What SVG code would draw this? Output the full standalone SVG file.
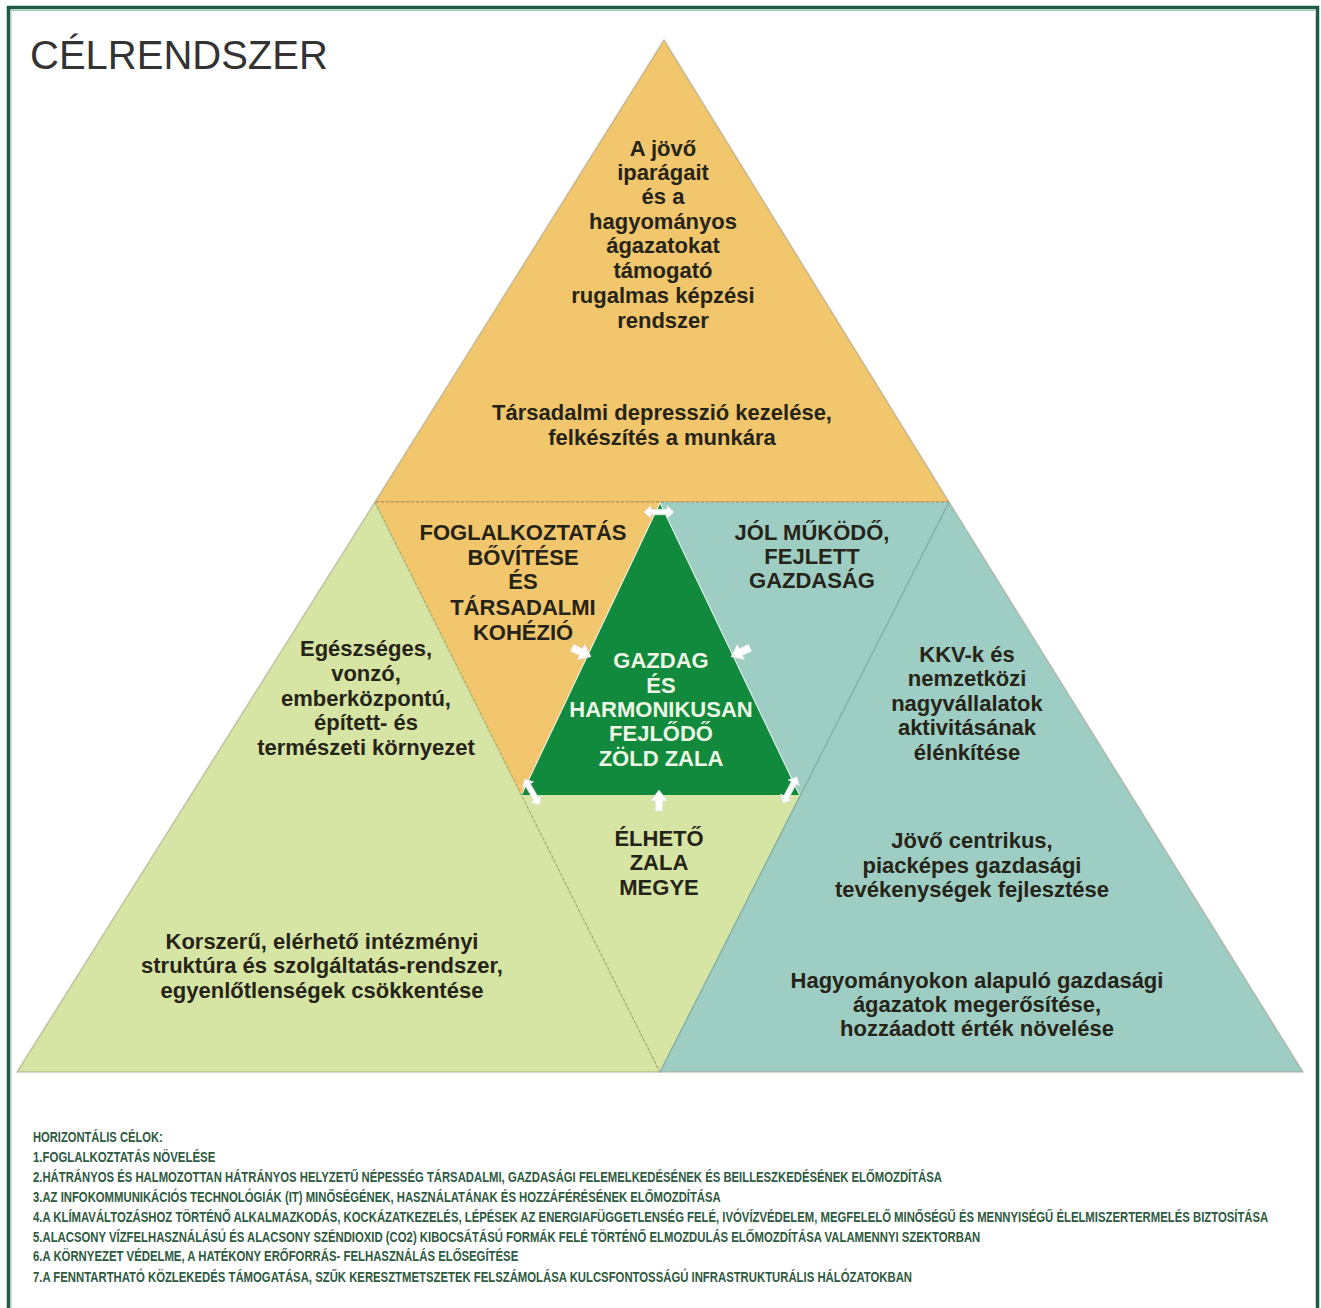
<svg xmlns="http://www.w3.org/2000/svg" xmlns:xlink="http://www.w3.org/1999/xlink" width="1321" height="1308" viewBox="0 0 1321 1308">
<style>
.lbl{font-family:"Liberation Sans",Arial,sans-serif;font-weight:bold;font-size:22px;fill:#262418;text-anchor:middle}
.wht{fill:#eef7e6}
.goal{font-family:"Liberation Sans",Arial,sans-serif;font-weight:bold;font-size:14.5px;fill:#2e5a3f}
.edge{stroke:#a8a48c;stroke-opacity:0.6;stroke-width:1.5;stroke-linejoin:round}
.arr{fill:#ffffff;stroke:#dcdcdc;stroke-width:0.6}
</style>
<defs>
<polygon id="dbl" points="-15,0 -8,-6.5 -8,-2.8 8,-2.8 8,-6.5 15,0 8,6.5 8,2.8 -8,2.8 -8,6.5"/>
<polygon id="sgl" points="-10,-3.8 0,-3.8 0,-8.5 11,0 0,8.5 0,3.8 -10,3.8"/>
</defs>
<rect width="1321" height="1308" fill="#ffffff"/>
<path d="M8.5,1308 V7.5 H1317.5 V1308" fill="none" stroke="#1f5c45" stroke-width="3.5"/>
<path d="M11,1308 V10.5 H1315" fill="none" stroke="#9cc3ae" stroke-width="1"/>
<g id="title"><text x="30" y="69" font-family="Liberation Sans, Arial, sans-serif" font-size="40" fill="#333333">CÉLRENDSZER</text></g>

<g id="top-triangle">
<polygon class="edge" points="664,40 375,502 949,502" fill="#f1c66c"/>
<text class="lbl"><tspan x="663" y="156">A jövő</tspan><tspan x="663" y="180">iparágait</tspan><tspan x="663" y="204">és a</tspan><tspan x="663" y="229">hagyományos</tspan><tspan x="663" y="253">ágazatokat</tspan><tspan x="663" y="278">támogató</tspan><tspan x="663" y="303">rugalmas képzési</tspan><tspan x="663" y="328">rendszer</tspan></text>
<text class="lbl"><tspan x="662" y="420">Társadalmi depresszió kezelése,</tspan><tspan x="662" y="445">felkészítés a munkára</tspan></text>
</g>

<g id="left-triangle">
<polygon class="edge" points="375,502 17,1072 660,1072" fill="#d6e4a4"/>
<text class="lbl"><tspan x="366" y="656">Egészséges,</tspan><tspan x="366" y="681">vonzó,</tspan><tspan x="366" y="706">emberközpontú,</tspan><tspan x="366" y="730">épített- és</tspan><tspan x="366" y="755">természeti környezet</tspan></text>
<text class="lbl"><tspan x="322" y="949">Korszerű, elérhető intézményi</tspan><tspan x="322" y="973">struktúra és szolgáltatás-rendszer,</tspan><tspan x="322" y="998">egyenlőtlenségek csökkentése</tspan></text>
</g>

<g id="right-triangle">
<polygon class="edge" points="949,502 660,1072 1303,1072" fill="#9ecdc3"/>
<text class="lbl"><tspan x="967" y="662">KKV-k és</tspan><tspan x="967" y="686">nemzetközi</tspan><tspan x="967" y="711">nagyvállalatok</tspan><tspan x="967" y="735">aktivitásának</tspan><tspan x="967" y="760">élénkítése</tspan></text>
<text class="lbl"><tspan x="972" y="848">Jövő centrikus,</tspan><tspan x="972" y="873">piacképes gazdasági</tspan><tspan x="972" y="897">tevékenységek fejlesztése</tspan></text>
<text class="lbl"><tspan x="977" y="988">Hagyományokon alapuló gazdasági</tspan><tspan x="977" y="1012">ágazatok megerősítése,</tspan><tspan x="977" y="1036">hozzáadott érték növelése</tspan></text>
</g>

<g id="piece-employment">
<polygon points="375,502 660,502 521,795" fill="#f1c66c"/>
<text class="lbl"><tspan x="523" y="540">FOGLALKOZTATÁS</tspan><tspan x="523" y="565">BŐVÍTÉSE</tspan><tspan x="523" y="589">ÉS</tspan><tspan x="523" y="615">TÁRSADALMI</tspan><tspan x="523" y="640">KOHÉZIÓ</tspan></text>
</g>

<g id="piece-economy">
<polygon points="660,502 949,502 800,795" fill="#9ecdc3"/>
<text class="lbl"><tspan x="812" y="540">JÓL MŰKÖDŐ,</tspan><tspan x="812" y="564">FEJLETT</tspan><tspan x="812" y="588">GAZDASÁG</tspan></text>
</g>

<g id="piece-livable">
<polygon points="521,795 800,795 660,1072" fill="#d6e4a4"/>
<text class="lbl"><tspan x="659" y="846">ÉLHETŐ</tspan><tspan x="659" y="870">ZALA</tspan><tspan x="659" y="895">MEGYE</tspan></text>
</g>

<g id="dividers" fill="none">
<line x1="376" y1="502" x2="948" y2="502" stroke="#b28c3e" stroke-width="1.2" stroke-dasharray="3,2"/>
<line x1="375" y1="502" x2="660" y2="1072" stroke="#a3b46e" stroke-width="1.2" stroke-dasharray="3,2"/>
<line x1="949" y1="502" x2="660" y2="1072" stroke="#7fb0a5" stroke-width="1.2"/>
</g>

<g id="center">
<polygon points="660,504 522,795 799,795" fill="#128a3e"/>
<text class="lbl wht"><tspan x="661" y="668">GAZDAG</tspan><tspan x="661" y="693">ÉS</tspan><tspan x="661" y="717">HARMONIKUSAN</tspan><tspan x="661" y="741">FEJLŐDŐ</tspan><tspan x="661" y="766">ZÖLD ZALA</tspan></text>
</g>

<g id="connectors">
<use xlink:href="#dbl" class="arr" transform="translate(659,512)"/>
<use xlink:href="#dbl" class="arr" transform="translate(532,792) rotate(60)"/>
<use xlink:href="#dbl" class="arr" transform="translate(790,790) rotate(-62)"/>
<use xlink:href="#sgl" class="arr" transform="translate(581,652) rotate(25)"/>
<use xlink:href="#sgl" class="arr" transform="translate(741,652) rotate(155)"/>
<use xlink:href="#sgl" class="arr" transform="translate(659,801) rotate(-90)"/>
</g>

<g id="horizontal-goals" transform="translate(33,0) scale(0.75,1)">
<text class="goal" x="0" y="1142" textLength="173" lengthAdjust="spacingAndGlyphs">HORIZONTÁLIS CÉLOK:</text>
<text class="goal" x="0" y="1162" textLength="243" lengthAdjust="spacingAndGlyphs">1.FOGLALKOZTATÁS NÖVELÉSE</text>
<text class="goal" x="0" y="1182" textLength="1212" lengthAdjust="spacingAndGlyphs">2.HÁTRÁNYOS ÉS HALMOZOTTAN HÁTRÁNYOS HELYZETŰ NÉPESSÉG TÁRSADALMI, GAZDASÁGI FELEMELKEDÉSÉNEK ÉS BEILLESZKEDÉSÉNEK ELŐMOZDÍTÁSA</text>
<text class="goal" x="0" y="1202" textLength="917" lengthAdjust="spacingAndGlyphs">3.AZ INFOKOMMUNIKÁCIÓS TECHNOLÓGIÁK (IT) MINŐSÉGÉNEK, HASZNÁLATÁNAK ÉS HOZZÁFÉRÉSÉNEK ELŐMOZDÍTÁSA</text>
<text class="goal" x="0" y="1222" textLength="1647" lengthAdjust="spacingAndGlyphs">4.A KLÍMAVÁLTOZÁSHOZ TÖRTÉNŐ ALKALMAZKODÁS, KOCKÁZATKEZELÉS, LÉPÉSEK AZ ENERGIAFÜGGETLENSÉG FELÉ, IVÓVÍZVÉDELEM, MEGFELELŐ MINŐSÉGŰ ÉS MENNYISÉGŰ ÉLELMISZERTERMELÉS BIZTOSÍTÁSA</text>
<text class="goal" x="0" y="1242" textLength="1263" lengthAdjust="spacingAndGlyphs">5.ALACSONY VÍZFELHASZNÁLÁSÚ ÉS ALACSONY SZÉNDIOXID (CO2) KIBOCSÁTÁSÚ FORMÁK FELÉ TÖRTÉNŐ ELMOZDULÁS ELŐMOZDÍTÁSA VALAMENNYI SZEKTORBAN</text>
<text class="goal" x="0" y="1261" textLength="647" lengthAdjust="spacingAndGlyphs">6.A KÖRNYEZET VÉDELME, A HATÉKONY ERŐFORRÁS- FELHASZNÁLÁS ELŐSEGÍTÉSE</text>
<text class="goal" x="0" y="1282" textLength="1172" lengthAdjust="spacingAndGlyphs">7.A FENNTARTHATÓ KÖZLEKEDÉS TÁMOGATÁSA, SZŰK KERESZTMETSZETEK FELSZÁMOLÁSA KULCSFONTOSSÁGÚ INFRASTRUKTURÁLIS HÁLÓZATOKBAN</text>
</g>
</svg>
